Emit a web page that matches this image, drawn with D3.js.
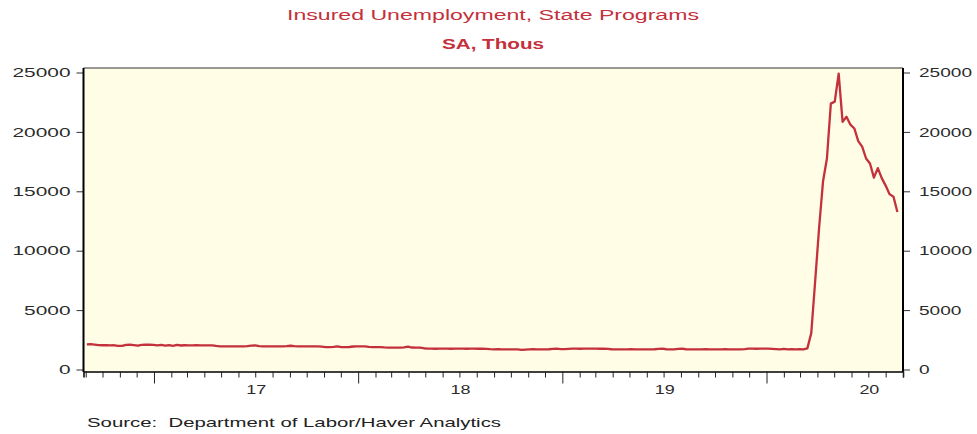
<!DOCTYPE html>
<html>
<head>
<meta charset="utf-8">
<script src="https://cdn.jsdelivr.net/npm/d3@7"></script>
<style>
  html, body { margin: 0; padding: 0; background: #ffffff; }
  svg { display: block; font-family: "Liberation Sans", Arial, sans-serif; }
  .note { white-space: pre; }
</style>
</head>
<body>
<script>
// Insured unemployment, state programs (SA, thousands), weekly, week ending Saturday
const firstWeek = Date.UTC(2016, 8, 3); // week ending Sat 3 Sep 2016

const weekly2016 = [2120, 2130, 2100, 2050, 2040, 2045, 2035, 2040, 1990, 1985, 2080, 2090,
  2060, 2000, 2070, 2090, 2085, 2080];
const weekly2017 = [2030, 2080, 2000, 2060, 1990, 2070, 2020,
  2040, 2030, 2035, 2040, 2030, 2035, 2030, 2025,
  1980, 1955, 1950, 1955, 1945, 1950, 1950, 1945, 1960,
  2010, 2035, 1975,
  1950, 1945, 1955, 1950, 1945, 1950, 1960,
  2000,
  1960, 1950, 1945, 1950, 1950, 1955, 1945,
  1920, 1890, 1885, 1900, 1955, 1890, 1880, 1895, 1935, 1945];
const weekly2018 = [1950, 1945,
  1900, 1890, 1885, 1890,
  1860,
  1840, 1835, 1845, 1840,
  1870, 1920,
  1850, 1840, 1835,
  1790,
  1755, 1750, 1745, 1750, 1755, 1750, 1745, 1750, 1750, 1755, 1745, 1750, 1750, 1745, 1750, 1740,
  1710, 1700, 1705, 1700, 1695, 1700, 1700, 1690,
  1645, 1670,
  1700, 1705, 1700, 1700, 1695, 1705,
  1730, 1755, 1720];
const weekly2019 = [1710, 1730,
  1750, 1755, 1745, 1750, 1750, 1755, 1750, 1745, 1750, 1740,
  1705, 1700, 1700, 1695, 1700, 1705, 1700, 1700, 1695, 1700, 1700, 1705,
  1730, 1755,
  1705, 1700, 1700,
  1730, 1755,
  1705, 1700, 1695, 1700, 1700, 1705, 1700, 1695, 1700, 1700, 1705, 1700, 1700, 1695, 1700, 1710,
  1750, 1755, 1745, 1750, 1750];
const weekly2020 = [1750, 1740,
  1720, 1690, 1730, 1690, 1720, 1700, 1710,
  1700,
  1780, 3060, 7450, 11910, 15820, 17760, 22380, 22550, 24910, 20840,
  21270, 20610, 20290, 19230, 18760, 17760, 17340, 16150, 16950, 16110,
  15480, 14760, 14540, 13250];

const yTicks = [0, 5000, 10000, 15000, 20000, 25000];
const yearLabels = ["17", "18", "19", "20"];
const labelYears = [2017, 2018, 2019, 2020];

const titleText = "Insured Unemployment, State Programs";
const subtitleText = "SA, Thous";
const sourceText = "Source:  Department of Labor/Haver Analytics";

const values = [].concat(weekly2016, weekly2017, weekly2018, weekly2019, weekly2020);
const series = values.map((v, i) => ({ date: d3.utcDay.offset(new Date(firstWeek), 7 * i), value: v }));

const W = 977, H = 434;
const plot = { left: 83.5, right: 903, top: 68, bottom: 371.5 };
const red = "#c4303b";
const labelColor = "#2b2b2b";

const svg = d3.select("body").append("svg").attr("width", W).attr("height", H);

const x = d3.scaleUtc()
  .domain([new Date(Date.UTC(2016, 7, 28)), new Date(Date.UTC(2020, 8, 1))])
  .range([plot.left, plot.right]);
const y = d3.scaleLinear().domain([0, 25000]).range([369.5, 72.5]);

// horizontally widened text helper
function stretch(sel, perChar) {
  sel.each(function () {
    const t = d3.select(this);
    const s = t.text();
    t.attr("textLength", s.length * perChar).attr("lengthAdjust", "spacingAndGlyphs");
  });
}

// titles
svg.append("text").attr("x", 493).attr("y", 19.5).attr("text-anchor", "middle")
  .attr("font-size", 14).attr("fill", red).text(titleText)
  .attr("textLength", 412).attr("lengthAdjust", "spacingAndGlyphs");
svg.append("text").attr("x", 493).attr("y", 49).attr("text-anchor", "middle")
  .attr("font-size", 14).attr("font-weight", "bold").attr("fill", red).text(subtitleText)
  .attr("textLength", 102).attr("lengthAdjust", "spacingAndGlyphs");

// plot background
svg.append("rect")
  .attr("x", plot.left).attr("y", plot.top)
  .attr("width", plot.right - plot.left).attr("height", plot.bottom - plot.top)
  .attr("fill", "#fffde6");

// series line
const line = d3.line().x(d => x(d.date)).y(d => y(d.value));
svg.append("path").datum(series)
  .attr("d", line).attr("fill", "none")
  .attr("stroke", red).attr("stroke-width", 2.3).attr("stroke-linejoin", "round");

// frame: thin top, heavier sides
svg.append("line").attr("x1", plot.left).attr("x2", plot.right).attr("y1", plot.top).attr("y2", plot.top)
  .attr("stroke", "#333").attr("stroke-width", 1);

// left axis
const gl = svg.append("g").attr("transform", `translate(${plot.left},0)`)
  .call(d3.axisLeft(y).tickValues(yTicks).tickSize(7).tickPadding(6).tickFormat(d3.format("d")));
gl.select(".domain").remove();
gl.selectAll(".tick line").attr("stroke", "#333");
gl.selectAll(".tick text").attr("font-size", 13).attr("fill", labelColor)
  .attr("font-family", "Liberation Sans, Arial, sans-serif").call(stretch, 11.6);
svg.append("line").attr("x1", plot.left).attr("x2", plot.left).attr("y1", plot.top).attr("y2", plot.bottom + 0.5)
  .attr("stroke", "#000").attr("stroke-width", 2);

// right axis
const gr = svg.append("g").attr("transform", `translate(${plot.right},0)`)
  .call(d3.axisRight(y).tickValues(yTicks).tickSize(7).tickPadding(9).tickFormat(d3.format("d")));
gr.select(".domain").remove();
gr.selectAll(".tick line").attr("stroke", "#333");
gr.selectAll(".tick text").attr("font-size", 13).attr("fill", labelColor)
  .attr("font-family", "Liberation Sans, Arial, sans-serif").call(stretch, 10.6);
svg.append("line").attr("x1", plot.right).attr("x2", plot.right).attr("y1", plot.top).attr("y2", plot.bottom + 0.5)
  .attr("stroke", "#000").attr("stroke-width", 2);

// bottom axis: monthly minor ticks, yearly major ticks, labels at mid-year
const months = d3.utcMonth.range(x.domain()[0], d3.utcDay.offset(x.domain()[1], 1));
const minor = months.filter(d => d.getUTCMonth() !== 0);
const major = months.filter(d => d.getUTCMonth() === 0);

const gx = svg.append("g").attr("transform", `translate(0,${plot.bottom})`);
gx.append("g").call(d3.axisBottom(x).tickValues(minor).tickSize(6).tickFormat(""))
  .call(g => g.select(".domain").attr("stroke", "#000").attr("stroke-width", 1.5));
gx.append("g").call(d3.axisBottom(x).tickValues(major).tickSize(12).tickFormat(""))
  .call(g => g.select(".domain").remove());
gx.selectAll(".tick line").attr("stroke", "#222");

const mid = labelYears.map(yr => new Date(Date.UTC(yr, 6, 2)));
const gLab = svg.append("g").attr("transform", `translate(0,${plot.bottom})`)
  .call(d3.axisBottom(x).tickValues(mid).tickSize(0).tickPadding(13)
    .tickFormat((d, i) => yearLabels[i]));
gLab.select(".domain").remove();
gLab.selectAll(".tick text").attr("font-size", 13).attr("fill", labelColor)
  .attr("font-family", "Liberation Sans, Arial, sans-serif").call(stretch, 10);

// source note (double space after the colon is kept)
svg.append("text").attr("class", "note").attr("x", 87).attr("y", 427).attr("font-size", 13).attr("fill", "#222")
  .text(sourceText).attr("textLength", 414).attr("lengthAdjust", "spacingAndGlyphs");
</script>
</body>
</html>
